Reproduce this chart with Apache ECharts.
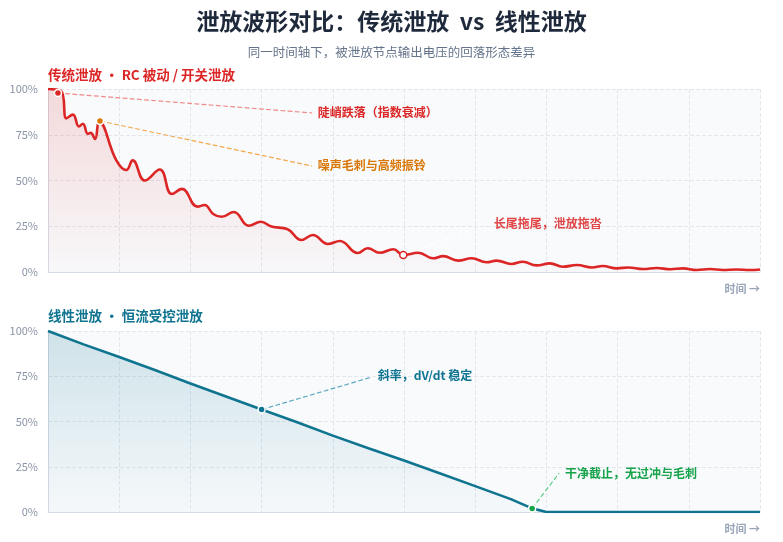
<!DOCTYPE html>
<html><head><meta charset="utf-8">
<script src="https://cdn.jsdelivr.net/npm/echarts@6/dist/echarts.min.js"></script>
<style>html,body{margin:0;padding:0;background:#fff}#c{width:783px;height:542px}</style>
</head><body><div id="c"></div>
<script>
// ---- data ----
const yTicks = [0, 25, 50, 75, 100];
const rcTime = [0,1.8,2.6,3.5,4.35,4.9,5.6,6.0,6.6,7.2,9.6,11.0,11.9,13.6,15.7,17.4,18.8,21.0,22.0,23.2,24.4,26.1,28.2,29.9,31.4,33.6,35.6,37.2,39.3,41.0,43.5,44.9,46.6,48.5,49.9,52.0,54.1,55.5,57.6,59.5,61.6,63.0,65.1,66.7,68.6,70.5,72.3,74.3,76.4,77.9,79.9,81.5,83.6,85.5,87.4,89.2,91.1,93.0,94.8,96.7,98.6,100];
const rcValue = [100,99,84,86,79.5,81,75.5,76,72.7,82,61,55.7,61,50,56,42.6,45.4,35.7,36.6,31.7,30.2,32.8,25.3,27.5,24.8,23.5,17.5,20.2,15.3,16.9,10.4,13,10.5,12.4,9.3,10.5,7.5,8.7,6.2,7.5,5.3,6.2,4.4,5.6,3.6,4.7,2.9,3.8,2.5,3.3,2.0,2.5,1.6,2.2,1.5,2.0,1.1,1.6,1.1,1.4,1.1,1.4];
const linTime = [0,5,10,15,20,25,30,35,40,45,50,55,60,65,68,70,75,80,85,90,95,100];
const linValue = [100,92.6,85.6,78.5,71,63.8,56.6,49.6,42.2,35.2,28.4,21.4,14.3,7.1,2.0,0,0,0,0,0,0,0];
// annotations: anchor point, leader end, label anchor, text
const rcNotes = [
  {name:'陡峭跌落（指数衰减）', at:[1.4,97.8], end:[37.1,86.9], label:[37.9,87.4]},
  {name:'噪声毛刺与高频振铃', at:[7.3,82.5], end:[37.1,57.9], label:[37.9,58.4]},
  {name:'长尾拖尾，泄放拖沓', at:[49.9,9.3], end:[59.5,23], label:[62.6,26.8]}
];
const linNotes = [
  {name:'斜率，dV/dt 稳定', at:[30,56.6], end:[45.5,74.6], label:[46.3,75.7]},
  {name:'干净截止，无过冲与毛刺', at:[68,2], end:[71.8,21.5], label:[72.6,21.5]}
];
// ---- styles ----
const rcColors = ['#dc2626','#d97706','#e04444'];
const rcLeader = ['#f08a8a','#f2a94a','#ffffff'];
const linColors = ['#0e7490','#16a34a'];
const linLeader = ['#5ea9c2','#5fcf86'];

const zip = (a,b)=>a.map((t,i)=>[t,b[i]]);
const chart = echarts.init(document.getElementById('c'));
const F = '"Noto Sans CJK SC","Noto Sans",sans-serif';

function xAxis(gi){
  return {type:'value', gridIndex:gi, min:0, max:100, interval:10,
    axisLabel:{show:false}, axisTick:{show:false},
    axisLine:{show:true, lineStyle:{color:'#d5dbe4'}},
    splitLine:{show:true, lineStyle:{color:'#e2e6ed', type:'dashed'}}};
}
function yAxis(gi){
  return {type:'value', gridIndex:gi, min:yTicks[0], max:yTicks[yTicks.length-1], interval:yTicks[1]-yTicks[0],
    axisLabel:{formatter:'{value}%', color:'#8a94a6', fontSize:11, margin:10, fontFamily:F},
    axisTick:{show:false},
    axisLine:{show:true, lineStyle:{color:'#d5dbe4'}},
    splitLine:{show:true, lineStyle:{color:'#e2e6ed', type:'dashed'}}};
}
function noteSeries(notes, gi, colors, leaders){
  const s = [];
  notes.forEach((n,i)=>{
    s.push({type:'line', xAxisIndex:gi, yAxisIndex:gi, data:[n.at,n.end], symbol:'none', silent:true, z:3,
      lineStyle:{color:leaders[i], width:1.2, type:'dashed'}});
  });
  s.push({type:'scatter', xAxisIndex:gi, yAxisIndex:gi, z:5, symbolSize:7,
    data:notes.map((n,i)=>{
      const hollow = (i===2 && gi===0);
      return {value:n.at, itemStyle:{opacity:1, color: hollow ? '#ffffff' : colors[i], borderColor: hollow ? colors[0] : '#ffffff', borderWidth:1.5}};
    })});
  s.push({type:'scatter', xAxisIndex:gi, yAxisIndex:gi, z:6, symbolSize:0, itemStyle:{opacity:1},
    data:notes.map((n,i)=>({value:n.label, label:{show:true, position:'right', distance:0, formatter:n.name,
      color:colors[i], opacity:1, fontSize:12, fontWeight:'bold', fontFamily:F}}))});
  return s;
}

chart.setOption({
  backgroundColor:'#ffffff',
  animation:false,
  textStyle:{fontFamily:F},
  title:[
    {text:'泄放波形对比：传统泄放  vs  线性泄放', left:'center', top:5, textStyle:{fontSize:23, fontWeight:'bold', color:'#1e293b', fontFamily:F}},
    {text:'同一时间轴下，被泄放节点输出电压的回落形态差异', left:'center', top:41, textStyle:{fontSize:12.5, fontWeight:'normal', color:'#64748b', fontFamily:F}},
    {text:'传统泄放 · RC 被动 / 开关泄放', left:43, top:63, textStyle:{fontSize:13.5, fontWeight:'bold', color:'#dc2626', fontFamily:F}},
    {text:'线性泄放 · 恒流受控泄放', left:43, top:304, textStyle:{fontSize:13.5, fontWeight:'bold', color:'#0e7490', fontFamily:F}},
    {text:'时间 →', right:18, top:278, textStyle:{fontSize:11, fontWeight:'bold', color:'#9aa5b8', fontFamily:F}},
    {text:'时间 →', right:18, top:518, textStyle:{fontSize:11, fontWeight:'bold', color:'#9aa5b8', fontFamily:F}}
  ],
  grid:[
    {left:48, right:23, top:89, height:183, show:true, backgroundColor:'#f8fafc', borderWidth:0},
    {left:48, right:23, top:331, height:181, show:true, backgroundColor:'#f8fafc', borderWidth:0}
  ],
  xAxis:[xAxis(0), xAxis(1)],
  yAxis:[yAxis(0), yAxis(1)],
  series:[
    {type:'line', xAxisIndex:0, yAxisIndex:0, data:zip(rcTime, rcValue), smooth:0.45, symbol:'none', z:4,
      lineStyle:{color:'#dc2626', width:2.6},
      areaStyle:{color:new echarts.graphic.LinearGradient(0,0,0,1,[{offset:0,color:'rgba(220,38,38,0.22)'},{offset:1,color:'rgba(220,38,38,0.02)'}])}},
    {type:'line', xAxisIndex:1, yAxisIndex:1, data:zip(linTime, linValue), smooth:false, symbol:'none', z:4,
      lineStyle:{color:'#0e7490', width:2.6},
      areaStyle:{color:new echarts.graphic.LinearGradient(0,0,0,1,[{offset:0,color:'rgba(14,116,144,0.25)'},{offset:1,color:'rgba(14,116,144,0.02)'}])}},
    ...noteSeries(rcNotes, 0, rcColors, rcLeader),
    ...noteSeries(linNotes, 1, linColors, linLeader)
  ]
});
</script></body></html>
